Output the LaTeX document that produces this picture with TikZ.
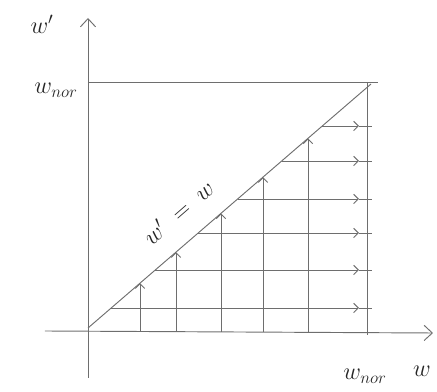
\documentclass[tikz,border=0pt]{standalone}
\usepackage{amsmath}
\usetikzlibrary{arrows.meta,positioning,calc}
\definecolor{pencil}{RGB}{110,110,110}
\tikzset{
  pen/.style={draw=pencil, line width=0.8pt},
  axisline/.style={pen, -{Straight Barb[length=7pt,width=13pt]}},
  liftarrow/.style={pen, -{Straight Barb[length=4pt,width=8pt]}},
  sketchlabel/.style={font=\huge, text=black!85}
}

\begin{document}
\begin{tikzpicture}[x=0.03cm, y=0.03cm]
  \useasboundingbox (-88,-61) rectangle (349,331);

  % axes
  \coordinate (ybot) at (0,-47);
  \coordinate (ytop) at (0,313);
  \coordinate (xleft) at (-43,0);
  \coordinate (xright) at (345,-2);
  \draw[axisline] (ybot) -- (ytop);
  \draw[axisline] (xleft) -- (xright);

  % square and diagonal
  \coordinate (topleft) at (0,249);
  \coordinate (topright) at (290,249);
  \coordinate (rbot) at (279,-4);
  \coordinate (rtop) at (279,249);
  \coordinate (dstart) at (0,3);
  \coordinate (dend) at (283,247);
  \draw[pen] (topleft) -- (topright);
  \draw[pen] (rbot) -- (rtop);
  \draw[pen] (dstart) -- (dend);

  % vertical arrows up to the diagonal
  \foreach \x [count=\i] in {52,88,133,175,220} {
    \coordinate (b\i) at (\x,-1);
    \coordinate (d\i) at (\x,{3+0.862*\x});
    \draw[liftarrow] (b\i) -- (d\i);
  }

  % horizontal arrows from the diagonal to the right edge
  \foreach \y [count=\i] in {23,61,98,132,170,205} {
    \coordinate (h\i) at ({(\y-3)/0.862},\y);
    \coordinate (m\i) at (271,\y);
    \coordinate (e\i) at (284,\y);
    \draw[liftarrow] (h\i) -- (m\i);
    \draw[pen] (m\i) -- (e\i);
  }

  % labels
  \node[sketchlabel] (wprime) at (-46,307) {$w'$};
  \node[sketchlabel] (wnorleft) at (-32,241) {$w_{nor}$};
  \node[sketchlabel] (wnorbot) at (277,-45) {$w_{nor}$};
  \node[sketchlabel] (waxis) at (334,-40) {$w$};
  \node[sketchlabel, rotate=41] (diaglabel) at (90,119) {$w' \;=\; w$};
\end{tikzpicture}
\end{document}
